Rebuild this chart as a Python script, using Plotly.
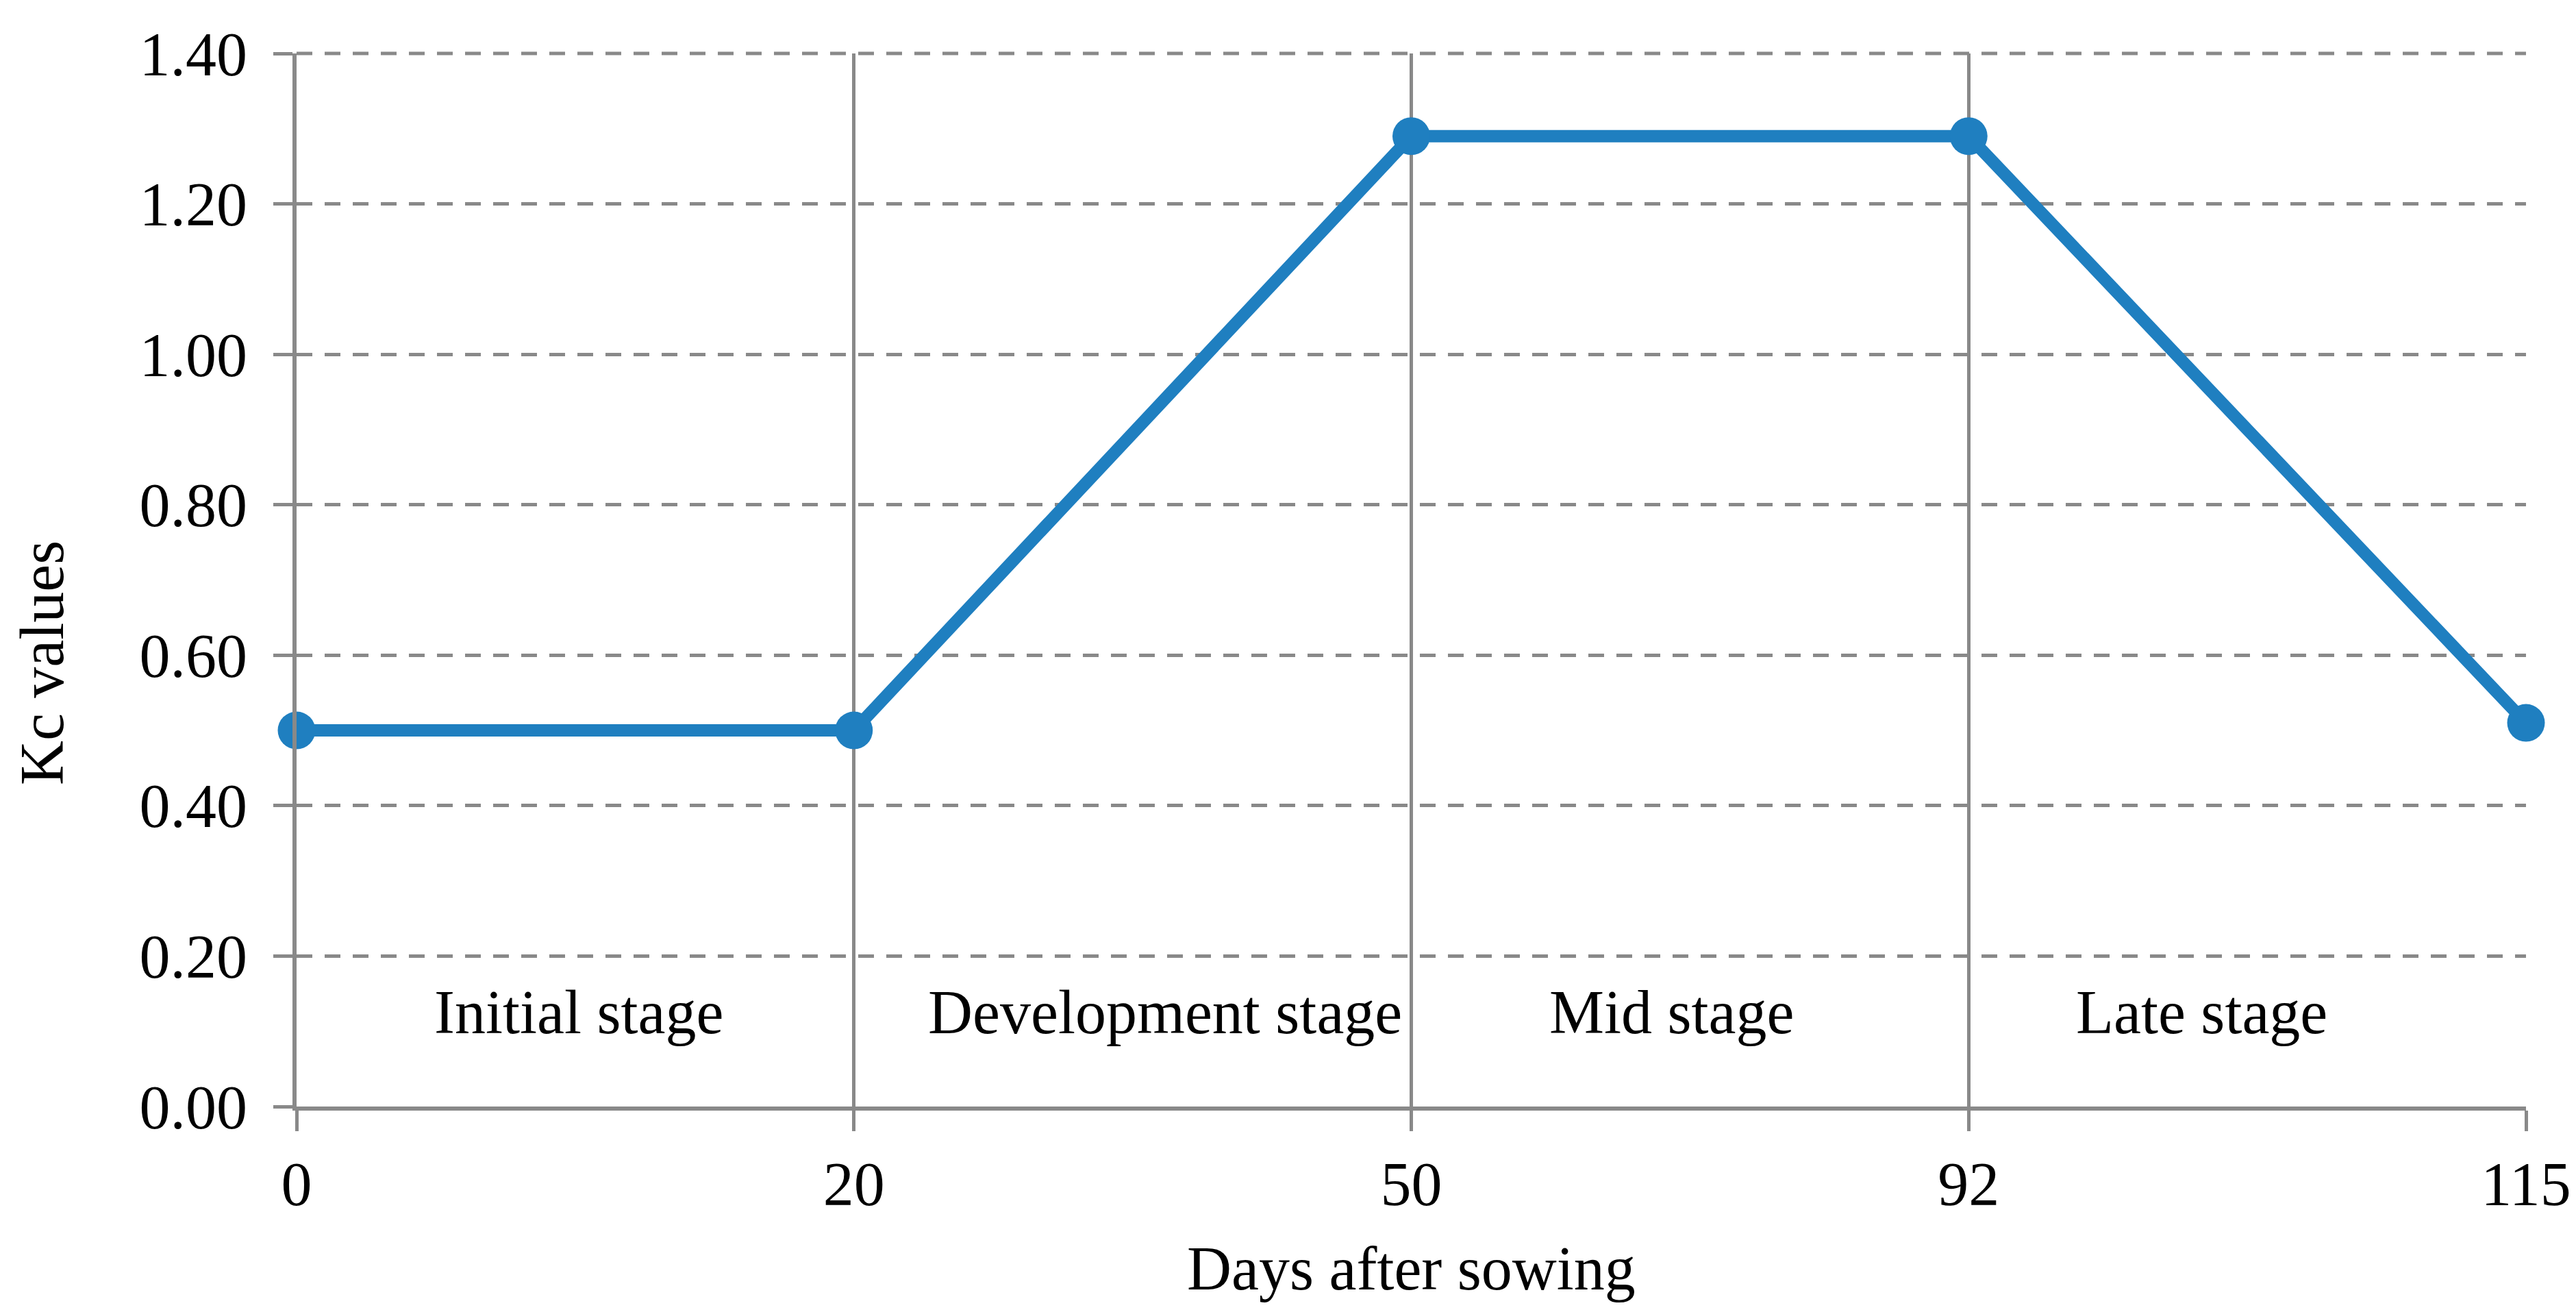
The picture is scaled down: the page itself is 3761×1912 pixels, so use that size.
import plotly.graph_objects as go

days = ["0", "20", "50", "92", "115"]
kc_values = [0.50, 0.50, 1.29, 1.29, 0.51]
stage_names = ["Initial stage", "Development stage", "Mid stage", "Late stage"]
stage_label_pos = [0.506, 1.558, 2.467, 3.418]
stage_label_y = 0.125
y_ticks = [0.0, 0.2, 0.4, 0.6, 0.8, 1.0, 1.2, 1.4]

FONT = "Liberation Serif"
GRID = "#898989"
BLUE = "#1f7fc0"
FS = 90
DASH = "23px,18px"

fig = go.Figure()
fig.add_trace(go.Scatter(
    x=days, y=kc_values, mode="lines+markers",
    line=dict(color=BLUE, width=18),
    marker=dict(color=BLUE, size=55),
    cliponaxis=False, showlegend=False,
))

# top gridline at the upper range edge (plotly omits the grid line there)
fig.add_shape(type="line", xref="paper", yref="paper", x0=0, x1=1,
              y0=1, y1=1, layer="below",
              line=dict(color=GRID, width=5, dash=DASH))

for name, xp in zip(stage_names, stage_label_pos):
    fig.add_annotation(x=xp, y=stage_label_y, xref="x", yref="y", text=name,
                       showarrow=False, xanchor="center", yanchor="middle",
                       font=dict(family=FONT, size=FS, color="black"))

fig.add_annotation(x=0.5, y=-0.154, xref="paper", yref="paper", text="Days after sowing",
                   showarrow=False, xanchor="center", yanchor="middle",
                   font=dict(family=FONT, size=FS, color="black"))
fig.add_annotation(x=-0.1143, y=0.4215, xref="paper", yref="paper", text="Kc values",
                   showarrow=False, xanchor="center", yanchor="middle", textangle=-90,
                   font=dict(family=FONT, size=FS, color="black"))

fig.update_layout(
    width=3761, height=1912,
    margin=dict(l=425, r=81, t=70, b=305),
    paper_bgcolor="white", plot_bgcolor="white",
    font=dict(family=FONT, size=FS, color="black"),
    xaxis=dict(type="category", categoryorder="array", categoryarray=days,
               range=[0, 4], showgrid=True, gridcolor=GRID, gridwidth=5,
               showline=True, linecolor=GRID, linewidth=6,
               ticks="outside", ticklen=30, tickwidth=5, tickcolor=GRID,
               tickfont=dict(family=FONT, size=FS, color="black"),
               zeroline=False),
    yaxis=dict(range=[0, 1.4], tickvals=y_ticks, tickformat=".2f",
               showgrid=True, gridcolor=GRID, gridwidth=5, griddash=DASH,
               showline=True, linecolor=GRID, linewidth=6,
               ticks="outside", ticklen=28, tickwidth=5, tickcolor=GRID,
               ticklabelstandoff=20,
               tickfont=dict(family=FONT, size=FS, color="black"),
               zeroline=False),
)

fig.write_html("out.html")
